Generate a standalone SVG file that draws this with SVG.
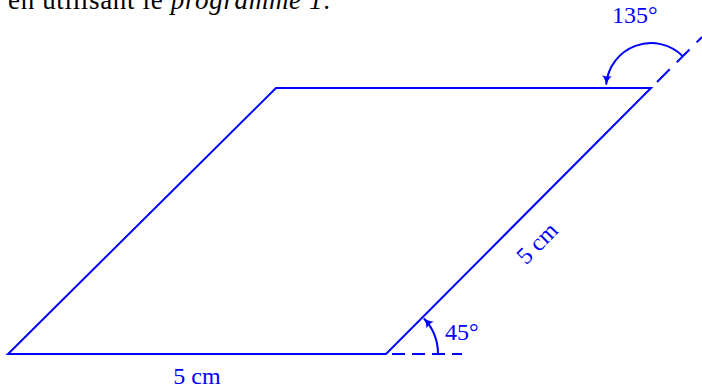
<svg xmlns="http://www.w3.org/2000/svg" width="702" height="390" viewBox="0 0 702 390">
<style>
  .ln { fill: none; stroke: #0000ff; stroke-width: 2; stroke-linejoin: miter; }
  .dash { fill: none; stroke: #0000ff; stroke-width: 2; }
  .lbl { font-family: "Liberation Serif", "DejaVu Serif", serif; font-size: 24px; fill: #0000ff; }
  .top { font-family: "Liberation Serif", "DejaVu Serif", serif; font-size: 27px; fill: #000000; }
</style>
<defs>
  <marker id="arr" viewBox="0 0 10 10" refX="9" refY="5" markerWidth="10" markerHeight="10" markerUnits="userSpaceOnUse" orient="auto">
    <path d="M0,0 Q4,4 10,5 Q4,6 0,10 Q2,5 0,0 Z" fill="#0000ff"/>
  </marker>
</defs>
<rect width="702" height="390" fill="#ffffff"/>
<text class="top" x="8" y="9" textLength="322" lengthAdjust="spacing">en utilisant le <tspan font-style="italic">programme 1</tspan>.</text>
<g id="parallelogram">
  <path class="ln" d="M8,354 L386,354 L651,88 L276,88 Z"/>
</g>
<g id="connectors">
  <path class="dash" d="M392,354 L462,354" stroke-dasharray="13 7"/>
  <path class="dash" d="M657,82 L702,37" stroke-dasharray="18 10"/>
  <path class="ln" d="M438,354 A52,52 0 0 0 424,318.5" marker-end="url(#arr)"/>
  <path class="ln" d="M682.8,56.2 A45,45 0 0 0 606.2,84.5" marker-end="url(#arr)"/>
</g>
<g id="labels">
  <text class="lbl" x="612" y="23">135°</text>
  <text class="lbl" x="445" y="340">45°</text>
  <text class="lbl" x="197" y="384" text-anchor="middle">5 cm</text>
  <text class="lbl" transform="translate(537,243) rotate(-45)" x="0" y="8" text-anchor="middle">5 cm</text>
</g>
</svg>
